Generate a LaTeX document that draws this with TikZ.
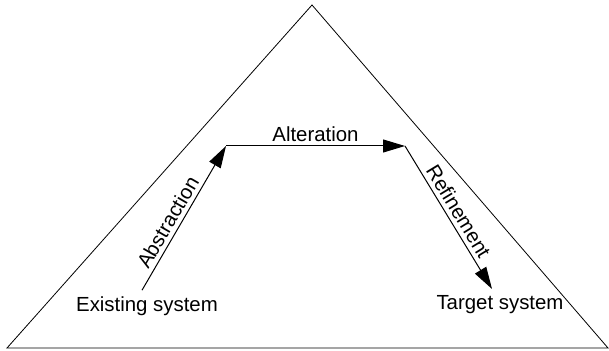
\documentclass[tikz,border=0pt]{standalone}
\usepackage{fontspec}
\setmainfont{Liberation Sans}
\usepackage{tikz}
\usetikzlibrary{arrows.meta,positioning,calc}

\begin{document}
\begin{tikzpicture}[
  x=0.5pt, y=-0.5pt,
  >={Triangle[length=11pt,width=6.5pt]},
  every node/.style={font=\fontsize{10.2}{12}\selectfont},
  sysname/.style={anchor=base, inner sep=3.3pt},
  step arrow/.style={->, line width=0.5pt},
  step label/.style={inner sep=2pt},
]
  \useasboundingbox (0,0) rectangle (609,351);

  % the triangle
  \coordinate (left) at (7,348);
  \coordinate (top) at (312,5);
  \coordinate (right) at (608,348);
  \draw[line width=0.4pt] (left) -- (top) -- (right) -- cycle;

  \node[sysname] (existing) at (147,312) {Existing system};
  \node[sysname] (target) at (500,310) {Target system};
  \coordinate (abst) at (226,146);
  \coordinate (alter) at (405,146);

  \draw[step arrow] ([xshift=-2.5pt]existing.north) -- node[step label, sloped, above, pos=0.43]{Abstraction} (abst);
  \draw[step arrow] (abst) -- node[step label, above]{Alteration} (alter);
  \draw[step arrow] (alter) -- node[step label, sloped, above]{Refinement} ([xshift=-4pt]target.north);
\end{tikzpicture}
\end{document}
